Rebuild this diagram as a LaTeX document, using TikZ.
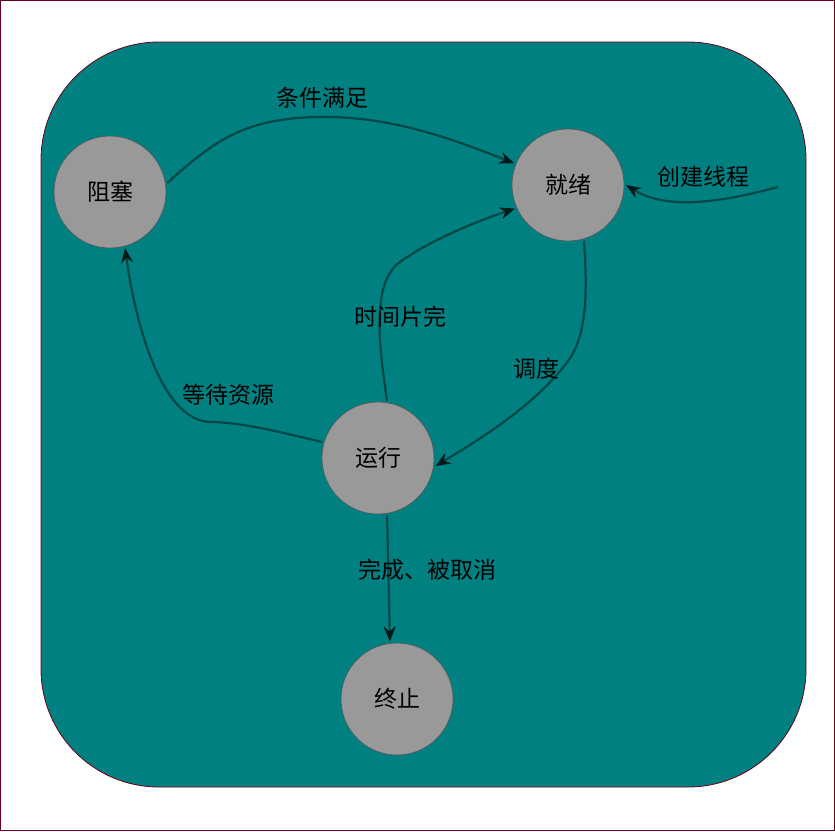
\documentclass[tikz,border=0pt]{standalone}
\usepackage{fontspec}
\newfontfamily\cjk{Noto Sans CJK SC}
\usetikzlibrary{arrows.meta}
\definecolor{framecol}{RGB}{102,0,26}
\definecolor{tealbg}{RGB}{0,128,128}
\definecolor{stategray}{RGB}{153,153,153}
\definecolor{stateborder}{RGB}{85,85,85}
\definecolor{edgecol}{RGB}{0,72,72}
\definecolor{tipcol}{RGB}{0,25,25}
\tikzset{
  state/.style={circle, fill=stategray, draw=stateborder, line width=0.6pt,
    minimum size=112pt, inner sep=0pt, outer sep=2pt, font=\cjk\fontsize{23}{26}\selectfont},
  trans/.style={draw=edgecol, line width=2.2pt, -{Stealth[length=15pt,width=12pt,inset=5pt,color=tipcol]}},
  lbl/.style={font=\cjk\fontsize{23}{26}\selectfont, text=black, inner sep=0pt}
}
\begin{document}
\begin{tikzpicture}[x=1pt,y=-1pt]
\useasboundingbox (0,0) rectangle (835,831);
\draw[framecol, line width=1.2pt] (0.6,0.6) rectangle (834.4,830.4);
\draw[framecol, fill=tealbg, line width=0.8pt, rounded corners=118pt] (41,42) rectangle (806,787);

\node[state] (blk) at (110,192) {阻塞};
\node[state] (rdy) at (568,185) {就绪};
\node[state] (run) at (378,458) {运行};
\node[state] (end) at (397,699) {终止};
\coordinate (new) at (778,187);

\draw[trans] (blk.9) .. controls (215,140) and (245,118) .. (320,117)
  .. controls (390,116) and (450,138) .. (rdy.158);
\draw[trans] (new) .. controls (740,197) and (672,214) .. (rdy.0);
\draw[trans] (run.81) .. controls (378,340) and (372,282) .. (400,262)
  .. controls (430,240) and (480,220) .. (rdy.204);
\draw[trans] (rdy.286) .. controls (588,300) and (586,340) .. (565,365)
  .. controls (530,410) and (470,445) .. (run.-8);
\draw[trans] (run.164) .. controls (280,432) and (240,422) .. (210,422)
  .. controls (160,420) and (135,320) .. (blk.285);
\draw[trans] (run.279) -- (end.97);

\node[lbl] (l1) at (322,98) {条件满足};
\node[lbl] (l2) at (703,177) {创建线程};
\node[lbl] (l3) at (400,317) {时间片完};
\node[lbl] (l4) at (536,369) {调度};
\node[lbl] (l5) at (228,395) {等待资源};
\node[lbl] (l6) at (427,570) {完成、被取消};
\end{tikzpicture}
\end{document}
